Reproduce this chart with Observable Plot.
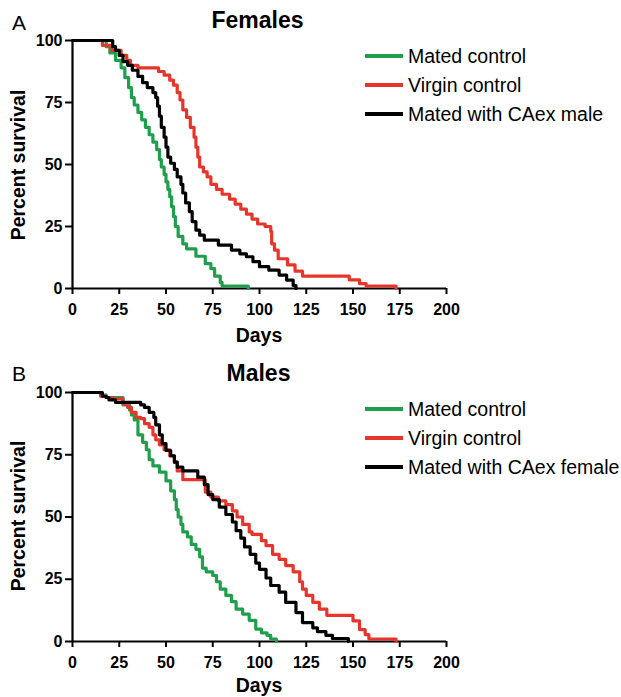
<!DOCTYPE html>
<html><head><meta charset="utf-8">
<script src="https://cdn.jsdelivr.net/npm/d3@7"></script>
<script src="https://cdn.jsdelivr.net/npm/@observablehq/plot@0.6"></script>
<style>
html,body{margin:0;padding:0;background:#fff;}
#wrap{position:relative;width:621px;height:697px;overflow:hidden;font-family:"Liberation Sans",Arial,sans-serif;color:#000;background:#fff;}
.t{position:absolute;white-space:nowrap;line-height:1;}
.panel{position:absolute;left:0;}
.lg{position:absolute;height:3.5px;width:38px;}
</style></head><body><div id="wrap"></div>
<script>
// ---- data: [day, percent survival] step points ----
const xTicks = [0, 25, 50, 75, 100, 125, 150, 175, 200];
const yTicks = [0, 25, 50, 75, 100];
const seriesNames = ["Mated control", "Virgin control"];
const femaleThird = "Mated with CAex male";
const maleThird = "Mated with CAex female";
const seriesColors = ["#1f9e4b", "#e8352b", "#000000"];

const femMated = [[0,100],[18,97.5],[20,95],[23,92],[26,89],[28,85],[30,81],[31.5,77],[33,74],[35,71],[37,68],[39,65],[41,62],[43,59],[45,56],[46.5,52],[47.5,49],[49,46],[50,43],[51,40],[52,37],[53,33],[54,29],[55,25],[56.5,21],[59,18],[61,16],[66,13],[71,10],[74,8],[76,5],[79,2.5],[80,1],[94,0]];
const femVirgin = [[0,100],[16,98],[21,96],[26,94],[29,92],[31,90],[35,89],[46,87.5],[49,86],[52,84],[54,82],[56,79],[57.5,76],[59,72],[61,69],[63,65],[65,61],[66,57],[67,53],[68,49],[70,47],[72,45],[74,42],[77,40],[80,38],[84,36],[87,34],[90,32],[93,30],[96,28],[99,26],[103,25],[106,23],[106.5,18],[108,15.5],[110,12],[115,9.5],[119,7],[123,5],[148,3.5],[153.5,2],[157,1],[173,0]];
const femCAex = [[0,100],[21.5,97.5],[23,96],[25,94],[27,91.5],[29.5,90],[32,88],[35,85.5],[37.5,83],[40,81],[43,79],[44.5,77],[45.5,73.5],[46.5,69.5],[47.5,65],[49,61],[50,57],[51,53],[52.5,50.5],[54.5,48],[56,45],[58,42],[59,38.5],[60.5,34.5],[62.5,31],[64,27],[66,23.5],[68,21.5],[70.5,19.5],[78,17.5],[85,15.5],[89.5,14],[93,12.8],[96.5,10.8],[100,8.8],[105,7.4],[110.5,5.4],[114.5,3.4],[118,1.2],[119.5,0]];

const malMated = [[0,100],[15,99],[18,98],[27,95],[30.5,93],[31.5,91],[33,89],[35,83],[37.5,80],[39.5,77],[41,73],[43,70.5],[46.5,68],[50,64.5],[52.5,60.5],[54.5,57],[55.5,53],[56.5,50],[58,47],[59,44],[61.5,42],[63.5,39],[66,37],[68,34],[69.5,29.5],[71.5,28],[75,26.5],[77,24],[79,21],[82,18.5],[85,16],[87.5,13],[91,11],[94.5,8.5],[98,5],[101,3.5],[104,2.5],[106,1],[109,0]];
const malVirgin = [[0,100],[15,98.5],[18,98],[21.5,97.5],[27,95.5],[29.5,94],[31.5,92],[34,90],[36.5,89.5],[38.5,87.5],[41,86],[43,83],[44.5,81],[46.5,79],[49,77],[52,74.5],[54.5,72],[56,68.5],[59,65],[71,60],[74,58],[78,56.5],[82,55],[85.5,52.5],[88,50],[91,47],[94.5,44],[96,43],[101,40.5],[103.5,38.5],[107,35],[110.5,33],[114,30.5],[118,28],[121.5,24],[123,21],[125,18.5],[128.5,15.7],[132,13],[136,10.5],[150,8.3],[153.5,4.8],[156.5,2.8],[158.5,1],[173,0]];
const malCAex = [[0,100],[16,98.5],[18,98],[19.5,97],[23,96],[36.5,95],[38.5,94],[41,92],[43.5,90],[44.5,87],[46.5,83],[48,79.5],[50,76.7],[52.5,74.6],[54.5,72],[56,70],[59,68.5],[67,66],[70.5,63],[72.5,59],[75,57],[78.5,54],[82,51],[85.5,48],[87.5,44.5],[90,41.5],[92,38],[95,35],[98,31.5],[100,29],[103.5,25.5],[106,22.5],[110.5,19.8],[114,15.7],[119.5,11.6],[123,7.6],[128.5,5.5],[131,4],[135.5,2.5],[139,1.2],[147.5,0]];

const FONT = '"Liberation Sans", Arial, sans-serif';
const wrap = document.getElementById("wrap");

function makePanel(seriesList, top, height, mt, mb) {
  const chart = Plot.plot({
    width: 621, height, marginLeft: 72, marginRight: 175, marginTop: mt, marginBottom: mb,
    x: {domain: [0, 200]}, y: {domain: [0, 100]},
    style: {fontFamily: FONT, fontSize: "16px", fontWeight: "bold", color: "#000", background: "transparent", overflow: "visible"},
    marks: [
      Plot.axisX({ticks: xTicks, tickSize: 6, tickPadding: 9, strokeWidth: 2, label: null, tickFormat: d => String(d)}),
      Plot.axisY({ticks: yTicks, tickSize: 7, tickPadding: 3, strokeWidth: 2, label: null, tickFormat: d => String(d)}),
      Plot.ruleX([0], {y1: 0, y2: 100, strokeWidth: 2.2, stroke: "#000"}),
      Plot.ruleY([0], {x1: 0, x2: 200, strokeWidth: 2.2, stroke: "#000"}),
      ...seriesList.map((s, i) => Plot.line(s, {x: d => d[0], y: d => d[1], stroke: seriesColors[i], strokeWidth: 3.2, curve: "step-after"}))
    ]
  });
  chart.classList.add("panel");
  chart.style.top = top + "px";
  wrap.appendChild(chart);
}

function txt(s, o) {
  const d = document.createElement("div");
  d.className = "t";
  d.textContent = s;
  d.style.fontSize = o.size + "px";
  d.style.fontWeight = o.bold ? "bold" : "normal";
  d.style.top = (o.cy - o.size / 2) + "px";
  if (o.rotate) {
    d.style.left = o.cx + "px";
    d.style.top = o.cy + "px";
    d.style.transform = "translate(-50%,-50%) rotate(-90deg)";
  } else if (o.cx !== undefined) {
    d.style.left = o.cx + "px";
    d.style.transform = "translateX(-50%)";
  } else {
    d.style.left = o.left + "px";
  }
  wrap.appendChild(d);
}

function legend(names, ys) {
  names.forEach((n, i) => {
    const l = document.createElement("div");
    l.className = "lg";
    l.style.left = "365px";
    l.style.top = (ys[i] - 1.75) + "px";
    l.style.background = seriesColors[i];
    wrap.appendChild(l);
    txt(n, {left: 408, cy: ys[i] + 1, size: 19.5});
  });
}

makePanel([femMated, femVirgin, femCAex], 0, 350, 40, 62);
makePanel([malMated, malVirgin, malCAex], 350, 347, 42, 56);

txt("A", {left: 12, cy: 22.5, size: 21});
txt("Females", {cx: 257.5, cy: 20, size: 23, bold: true});
txt("Percent survival", {cx: 18.5, cy: 164.5, size: 19.5, bold: true, rotate: true});
txt("Days", {cx: 259, cy: 336, size: 19.5, bold: true});
legend([...seriesNames, femaleThird], [56, 85, 114]);

txt("B", {left: 12, cy: 373.5, size: 21});
txt("Males", {cx: 258.5, cy: 373.5, size: 23, bold: true});
txt("Percent survival", {cx: 18.5, cy: 516, size: 19.5, bold: true, rotate: true});
txt("Days", {cx: 259, cy: 686, size: 19.5, bold: true});
legend([...seriesNames, maleThird], [409, 438, 467]);
</script></body></html>
